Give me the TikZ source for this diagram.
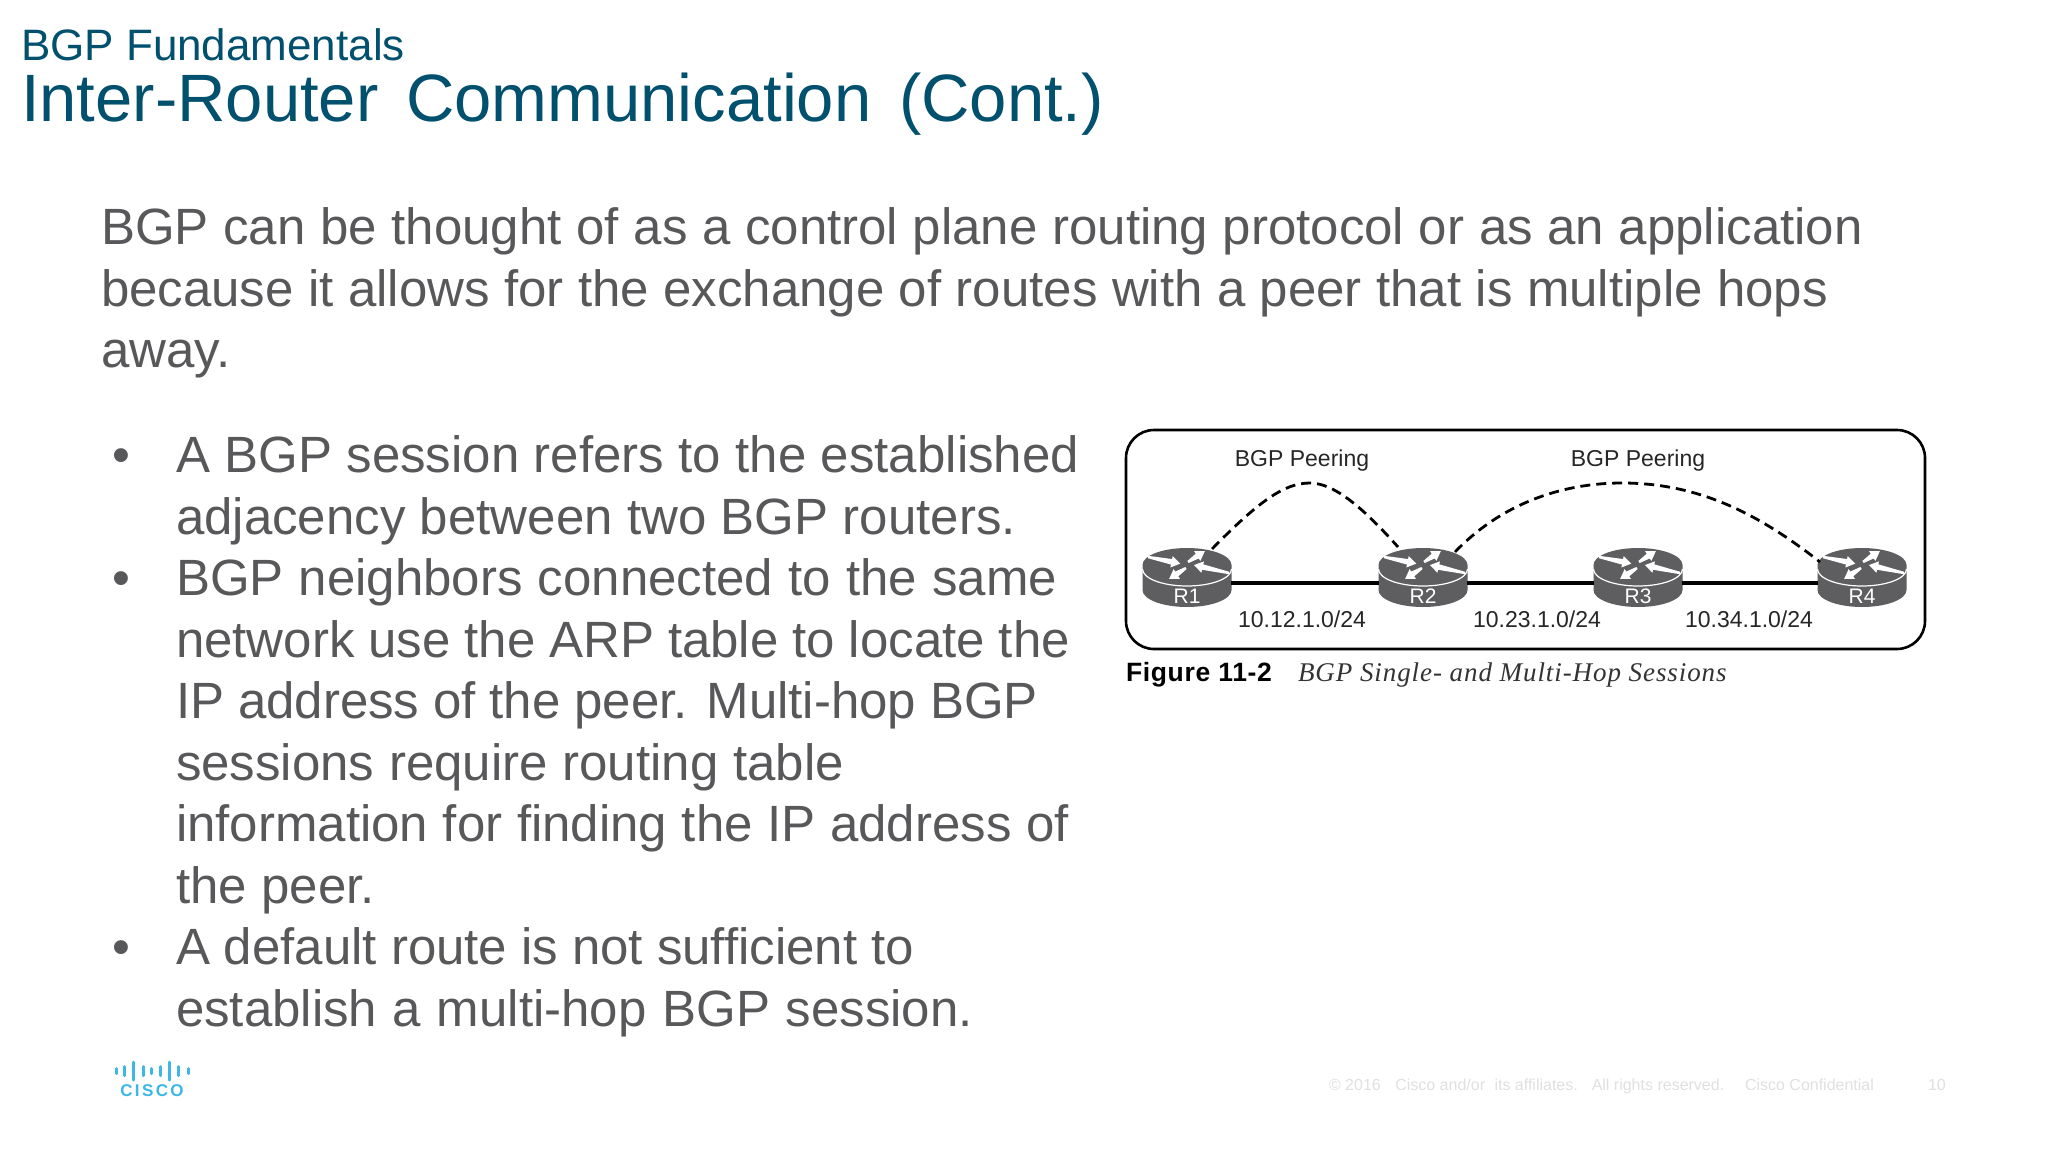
\documentclass[tikz,border=0pt]{standalone}
\usepackage{fontspec}
\setmainfont{Liberation Sans}
\newfontfamily\serifit{Liberation Serif}
\usetikzlibrary{arrows.meta}
\definecolor{titleblue}{HTML}{00506E}
\definecolor{bodygray}{HTML}{58585B}
\definecolor{routergray}{HTML}{5E5E60}
\definecolor{ciscoblue}{HTML}{3DB7E6}
\definecolor{footgray}{HTML}{E0E0E0}
\tikzset{
  x=1pt,y=-1pt,
  every node/.style={inner sep=0pt,outer sep=0pt},
  subtitle/.style={anchor=base west,text=titleblue,font=\fontsize{44}{44}\selectfont},
  maintitle/.style={anchor=base west,text=titleblue,font=\fontsize{67}{67}\selectfont},
  bodyline/.style={anchor=base west,text=bodygray,font=\fontsize{51}{51}\selectfont},
  figlabel/.style={anchor=base,text=black!85,font=\fontsize{23}{23}\selectfont},
  rlabel/.style={anchor=base,text=white,font=\fontsize{21}{21}\selectfont},
  foot/.style={anchor=base west,text=footgray,font=\fontsize{16}{16}\selectfont},
  rbody/.style={minimum width=88pt,minimum height=58pt},
  rarrow/.style={fill=white,draw=none},
  link/.style={line width=3.6pt,draw=black},
  peer/.style={line width=2.8pt,draw=black,dash pattern=on 10pt off 6pt},
  ciscobar/.style={line width=3pt,draw=ciscoblue,line cap=round},
}
\newcommand{\sline}[2]{\makebox[#1pt][s]{#2}}
% a tapered white arrow from tail (#1,#2) along unit direction (#3,#4) of length #5
\newcommand{\rarr}[5]{%
  \fill[rarrow] ({#1-1.2*#4},{#2+1.2*#3}) --
    ({#1+(#5-9)*#3-2.8*#4},{#2+(#5-9)*#4+2.8*#3}) --
    ({#1+(#5-9)*#3-5.8*#4},{#2+(#5-9)*#4+5.8*#3}) --
    ({#1+#5*#3},{#2+#5*#4}) --
    ({#1+(#5-9)*#3+5.8*#4},{#2+(#5-9)*#4-5.8*#3}) --
    ({#1+(#5-9)*#3+2.8*#4},{#2+(#5-9)*#4-2.8*#3}) --
    ({#1+1.2*#4},{#2-1.2*#3}) -- cycle;
}
\newcommand{\router}[4]{%
  \begin{scope}[shift={(#2,#3)}]
    \fill[routergray] (-44.5,0) -- (-44.5,25) arc[start angle=180,end angle=0,x radius=44.5,y radius=17] -- (44.5,0) arc[start angle=0,end angle=-180,x radius=44.5,y radius=17] -- cycle;
    \draw[white,line width=1.2pt] (-44.5,4) arc[start angle=180,end angle=0,x radius=44.5,y radius=17];
    \rarr{-39}{-8}{0.98}{0.2}{33}
    \rarr{1}{-3}{0.84}{-0.54}{20}
    \rarr{42}{8}{-0.975}{-0.22}{36}
    \rarr{-1}{3}{-0.84}{0.54}{20}
  \end{scope}
  \node[rbody] (#1) at (#2,#3+12.5) {};
  \node[rlabel] (#1lab) at (#2,#3+38) {#4};
}
\begin{document}
\begin{tikzpicture}
\useasboundingbox (0,0) rectangle (2048,1153);
\fill[white] (0,0) rectangle (2048,1153);
\node[subtitle] (sub) at (21,61) {BGP Fundamentals};
\node[maintitle] (title) at (21,122) {\sline{1083}{Inter-Router Communication (Cont.)}};
\node[bodyline] (p1) at (101,244.5) {\sline{1762}{BGP can be thought of as a control plane routing protocol or as an application}};
\node[bodyline] (p2) at (101,306) {\sline{1727}{because it allows for the exchange of routes with a peer that is multiple hops}};
\node[bodyline] (p3) at (101,367.5) {away.};
\node[bodyline] (b1) at (112,472.5) {•};
\node[bodyline] (l1) at (176,472.5) {\sline{903}{A BGP session refers to the established}};
\node[bodyline] (l2) at (176,534) {\sline{840}{adjacency between two BGP routers.}};
\node[bodyline] (b2) at (112,595.5) {•};
\node[bodyline] (l3) at (176,595.5) {\sline{881}{BGP neighbors connected to the same}};
\node[bodyline] (l4) at (176,657) {\sline{894}{network use the ARP table to locate the}};
\node[bodyline] (l5) at (176,718.5) {\sline{862}{IP address of the peer. Multi-hop BGP}};
\node[bodyline] (l6) at (176,780) {\sline{668}{sessions require routing table}};
\node[bodyline] (l7) at (176,841.5) {\sline{893}{information for finding the IP address of}};
\node[bodyline] (l8) at (176,903) {\sline{199}{the peer.}};
\node[bodyline] (b3) at (112,964.5) {•};
\node[bodyline] (l9) at (176,964.5) {\sline{738}{A default route is not sufficient to}};
\node[bodyline] (l10) at (176,1026) {\sline{797}{establish a multi-hop BGP session.}};
% figure
\node[draw=black,line width=2.6pt,rounded corners=28pt,minimum width=799pt,minimum height=219pt,anchor=north west] (frame) at (1126,430) {};
\router{R1}{1187}{565}{R1}
\router{R2}{1423}{565}{R2}
\router{R3}{1638}{565}{R3}
\router{R4}{1862}{565}{R4}
\draw[link] (R1.east |- 0,583) -- (R2.west |- 0,583);
\draw[link] (R2.east |- 0,583) -- (R3.west |- 0,583);
\draw[link] (R3.east |- 0,583) -- (R4.west |- 0,583);
\coordinate (c1) at (1212,549);
\coordinate (c2) at (1398,547);
\coordinate (c3) at (1455,552);
\coordinate (c4) at (1820,562);
\draw[peer] (c1) .. controls (1260,500) and (1285,483) .. (1310,483) .. controls (1335,483) and (1365,510) .. (c2);
\draw[peer] (c3) .. controls (1500,505) and (1560,483) .. (1622,483) .. controls (1700,483) and (1760,515) .. (c4);
\node[figlabel] (peer1) at (1302,466) {BGP Peering};
\node[figlabel] (peer2) at (1638,466) {BGP Peering};
\node[figlabel] (n1) at (1302,627) {10.12.1.0/24};
\node[figlabel] (n2) at (1537,627) {10.23.1.0/24};
\node[figlabel] (n3) at (1749,627) {10.34.1.0/24};
\node[anchor=base west,text=black,font=\fontsize{26.5}{26.5}\selectfont\bfseries] (figno) at (1126,681) {\addfontfeature{LetterSpace=2.5}Figure 11-2};
\node[anchor=base west,text=black!80,font=\fontsize{27}{27}\selectfont\serifit\itshape] (figcap) at (1298,681) {\addfontfeature{LetterSpace=3.4}BGP Single- and Multi-Hop Sessions};
% footer
\node[foot] (f1) at (1329,1090) {© 2016\hspace{10pt} Cisco and/or\hspace{5pt} its affiliates.\hspace{8pt} All rights reserved.};
\node[foot] (f2) at (1745,1090) {Cisco Confidential};
\node[foot] (f3) at (1928,1090) {10};
% logo
\foreach \xx/\hh in {116/2.5,124/4.5,133/9,143/4.5,151/2.5,160/4.5,169/9,178/4.5,188/2.5}
  \draw[ciscobar] (\xx,1071-\hh) -- (\xx,1071+\hh);
\node[anchor=base,text=ciscoblue,font=\fontsize{17}{17}\selectfont\bfseries] (logo) at (152,1096.5) {\addfontfeature{LetterSpace=14}CISCO};
\end{tikzpicture}
\end{document}
